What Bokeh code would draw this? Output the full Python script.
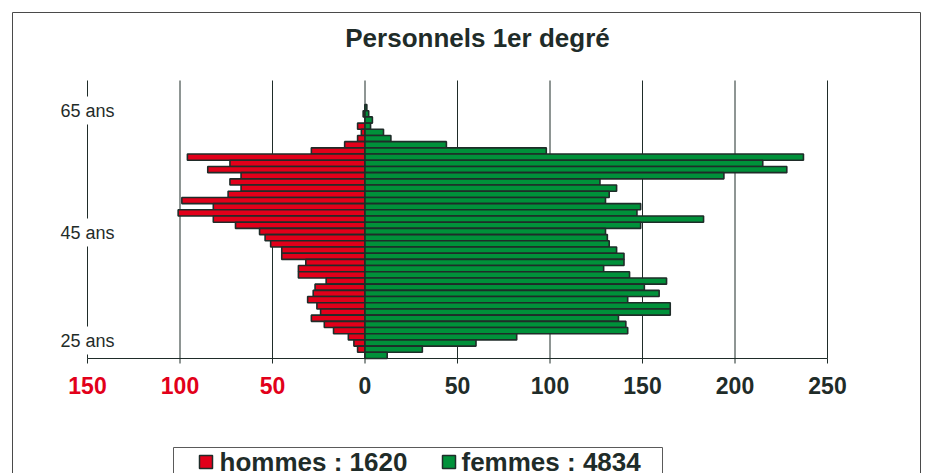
from bokeh.plotting import figure
from bokeh.models import ColumnDataSource, Range1d, Label
from bokeh.embed import file_html
from bokeh.resources import INLINE

# ---------------- data ----------------
title_text = "Personnels 1er degré"
ages = [64, 63, 62, 61, 60, 59, 58, 57, 56, 55, 54, 53, 52, 51, 50, 49, 48, 47, 46, 45,
        44, 43, 42, 41, 40, 39, 38, 37, 36, 35, 34, 33, 32, 31, 30, 29, 28, 27, 26, 25, 24]
hommes = [0, 1, 0, 4, 2, 4, 11, 29, 96, 73, 85, 67, 73, 67, 74, 99, 82, 101, 82, 70,
          57, 54, 51, 45, 45, 32, 36, 36, 21, 27, 28, 31, 26, 24, 29, 22, 17, 9, 6, 4, 0]
femmes = [1, 2, 4, 3, 10, 14, 44, 98, 237, 215, 228, 194, 127, 136, 132, 130, 149, 147, 183, 149,
          130, 131, 132, 136, 140, 140, 129, 143, 163, 151, 159, 142, 165, 165, 137, 141, 142, 82, 60, 31, 12]
x_ticks = [-150, -100, -50, 0, 50, 100, 150, 200, 250]
age_labels = ["65 ans", "45 ans", "25 ans"]
legend_labels = ["hommes : 1620", "femmes : 4834"]

# ---------------- style / layout ----------------
DARK = "#1f2c29"
RED = "#e2001a"
GREEN = "#00913a"
FONT = "Liberation Sans"

W, H = 932, 473
PL, PT, PR, PB = 87, 80, 827, 358           # plot area in pixels
X0, X1 = min(x_ticks), max(x_ticks)
ROW = (PB - 104) / len(ages)                # px per age row
Y0 = min(ages) - 0.5
XS = (PR - PL) / (X1 - X0)

def px(xp):
    return X0 + (xp - PL) / XS

def py(yp):
    return Y0 + (PB - yp) / ROW

p = figure(width=W, height=H, output_backend="svg", toolbar_location=None,
           x_range=Range1d(px(0), px(W)), y_range=Range1d(py(H), py(0)),
           min_border=0)
p.min_border_left = p.min_border_right = p.min_border_top = p.min_border_bottom = 0
p.outline_line_color = None
p.background_fill_color = "white"
p.border_fill_color = "white"
p.xaxis.visible = False
p.yaxis.visible = False
p.xgrid.visible = False
p.ygrid.visible = False

# outer border
p.quad(left=px(12), right=px(920), top=py(12), bottom=py(H + 20),
       fill_alpha=0, line_color="#4a4a4a", line_width=1)

# vertical grid lines
n = len(x_ticks)
p.segment(x0=x_ticks, x1=x_ticks, y0=[py(PT)] * n, y1=[Y0] * n,
          line_color=DARK, line_width=1)

# bars
src = ColumnDataSource(dict(age=ages, neg=[-v for v in hommes], fem=femmes))
p.hbar(y="age", left="neg", right=0, height=1.0, source=src,
       fill_color=RED, line_color=DARK, line_width=1.6)
p.hbar(y="age", left=0, right="fem", height=1.0, source=src,
       fill_color=GREEN, line_color=DARK, line_width=1.6)

# x axis line and ticks
p.segment(x0=[X0], x1=[X1], y0=[Y0], y1=[Y0], line_color=DARK, line_width=1.2)
p.segment(x0=x_ticks, x1=x_ticks, y0=[Y0] * n, y1=[py(PB + 5)] * n,
          line_color=DARK, line_width=1)

# x tick labels (red for hommes side, dark for femmes side)
for t in x_ticks:
    p.add_layout(Label(x=t, y=py(385), text=str(abs(t)), text_align="center",
                       text_baseline="middle", text_font=FONT, text_font_style="bold",
                       text_font_size="23px", text_color=RED if t < 0 else DARK))

# age labels over the left line
for txt, yy in zip(age_labels, [110, 232, 340]):
    p.add_layout(Label(x=X0, y=py(yy), text=txt, text_align="center", text_baseline="middle",
                       text_font=FONT, text_font_size="18px", text_color=DARK,
                       background_fill_color="white", padding=4))

# title
p.add_layout(Label(x=px(477), y=py(37), text=title_text, text_align="center",
                   text_baseline="middle", text_font=FONT, text_font_style="bold",
                   text_font_size="26px", text_color=DARK))

# legend box
p.quad(left=px(173), right=px(662), top=py(447), bottom=py(H + 20),
       fill_color="white", line_color="#5a5a5a", line_width=1)
sq_x = [199, 442]
tx_x = [219, 461]
p.quad(left=[px(v) for v in sq_x], right=[px(v + 13) for v in sq_x],
       top=[py(455)] * 2, bottom=[py(468)] * 2,
       fill_color=[RED, GREEN], line_color=DARK, line_width=1.5)
for lab, tx in zip(legend_labels, tx_x):
    p.add_layout(Label(x=px(tx), y=py(461), text=lab, text_align="left", text_baseline="middle",
                       text_font=FONT, text_font_style="bold", text_font_size="26px",
                       text_color=DARK))

open("out.html", "w").write(file_html(p, INLINE))
